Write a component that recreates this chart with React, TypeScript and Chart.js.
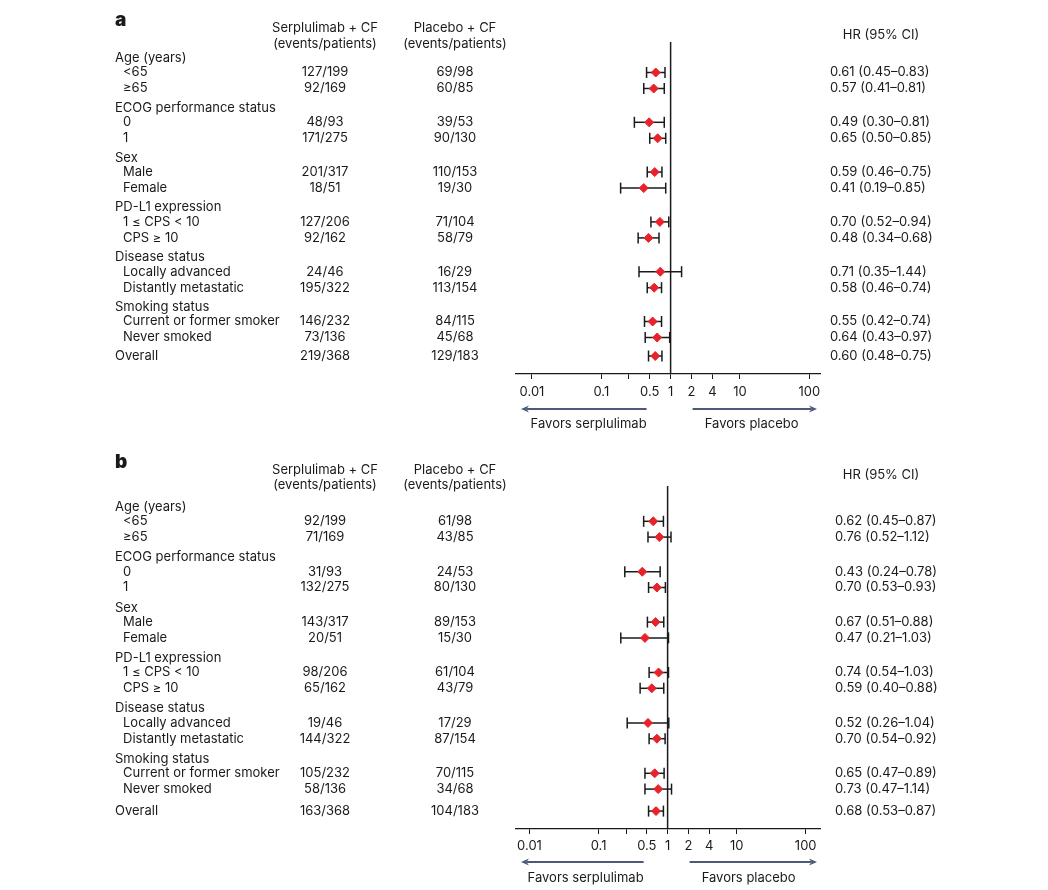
import { useEffect, useRef } from 'react';
import { Chart, registerables } from 'chart.js';

Chart.register(...registerables);

const FONT = 'Inter, "Noto Sans", "DejaVu Sans", sans-serif';
const INK = '#1b1a1b';
const RED = '#e8222b';
const ARROW = '#4c5a7a';

// ---- categories ----
const groupLabels = [
  'Age (years)',
  'ECOG performance status',
  'Sex',
  'PD-L1 expression',
  'Disease status',
  'Smoking status',
];
const subgroupLabels = [
  '<65', '≥65',
  '0', '1',
  'Male', 'Female',
  '1 ≤ CPS < 10', 'CPS ≥ 10',
  'Locally advanced', 'Distantly metastatic',
  'Current or former smoker', 'Never smoked',
];
const overallLabel = 'Overall';
const colHeaderSerp = ['Serplulimab + CF', '(events/patients)'];
const colHeaderPlac = ['Placebo + CF', '(events/patients)'];
const hrHeader = 'HR (95% CI)';
const favorsLeft = 'Favors serplulimab';
const favorsRight = 'Favors placebo';

// ---- axis ticks ----
const xTickValues = [0.01, 0.1, 0.25, 0.5, 1, 2, 4, 10, 100];
const xTickLabels = ['0.01', '0.1', '', '0.5', '1', '2', '4', '10', '100'];

// ---- panel a ----
const serpEventsA = ['127/199', '92/169', '48/93', '171/275', '201/317', '18/51', '127/206', '92/162', '24/46', '195/322', '146/232', '73/136', '219/368'];
const placEventsA = ['69/98', '60/85', '39/53', '90/130', '110/153', '19/30', '71/104', '58/79', '16/29', '113/154', '84/115', '45/68', '129/183'];
const hrA = [0.61, 0.57, 0.49, 0.65, 0.59, 0.41, 0.70, 0.48, 0.71, 0.58, 0.55, 0.64, 0.60];
const lowA = [0.45, 0.41, 0.30, 0.50, 0.46, 0.19, 0.52, 0.34, 0.35, 0.46, 0.42, 0.43, 0.48];
const highA = [0.83, 0.81, 0.81, 0.85, 0.75, 0.85, 0.94, 0.68, 1.44, 0.74, 0.74, 0.97, 0.75];

// ---- panel b ----
const serpEventsB = ['92/199', '71/169', '31/93', '132/275', '143/317', '20/51', '98/206', '65/162', '19/46', '144/322', '105/232', '58/136', '163/368'];
const placEventsB = ['61/98', '43/85', '24/53', '80/130', '89/153', '15/30', '61/104', '43/79', '17/29', '87/154', '70/115', '34/68', '104/183'];
const hrB = [0.62, 0.76, 0.43, 0.70, 0.67, 0.47, 0.74, 0.59, 0.52, 0.70, 0.65, 0.73, 0.68];
const lowB = [0.45, 0.52, 0.24, 0.53, 0.51, 0.21, 0.54, 0.40, 0.26, 0.54, 0.47, 0.47, 0.53];
const highB = [0.87, 1.12, 0.78, 0.93, 0.88, 1.03, 1.03, 0.88, 1.04, 0.92, 0.89, 1.14, 0.87];

type Layout = {
  height: number;
  areaTop: number;
  areaBottom: number;
  xMin: number;
  xMax: number;
  first: number;
  group: number;
  item: number;
  overallGap: number;
  letterY: number;
  head1Y: number;
  head2Y: number;
  hrHeadY: number;
  hrX: number;
  tickPad: number;
  arrowY: number;
  favorsY: number;
};

type Panel = {
  letter: string;
  serp: string[];
  plac: string[];
  hr: number[];
  low: number[];
  high: number[];
  layout: Layout;
};

const panelA: Panel = {
  letter: 'a',
  serp: serpEventsA,
  plac: placEventsA,
  hr: hrA,
  low: lowA,
  high: highA,
  layout: {
    height: 445, areaTop: 42, areaBottom: 374, xMin: 0.00588, xMax: 143,
    first: 72.5, group: 49.8, item: 16, overallGap: 18.5,
    letterY: 20, head1Y: 28.5, head2Y: 44.5, hrHeadY: 35, hrX: 830,
    tickPad: 5, arrowY: 409, favorsY: 424,
  },
};

const panelB: Panel = {
  letter: 'b',
  serp: serpEventsB,
  plac: placEventsB,
  hr: hrB,
  low: lowB,
  high: highB,
  layout: {
    height: 445, areaTop: 41, areaBottom: 384, xMin: 0.00638, xMax: 161,
    first: 76.3, group: 50.4, item: 15.8, overallGap: 22,
    letterY: 17.5, head1Y: 25, head2Y: 40.5, hrHeadY: 30, hrX: 835,
    tickPad: 4, arrowY: 417, favorsY: 433,
  },
};

function rowPositions(L: Layout): number[] {
  const ys: number[] = [];
  for (let g = 0; g < groupLabels.length; g++) {
    const y1 = L.first + g * L.group;
    ys.push(y1, y1 + L.item);
  }
  ys.push(ys[ys.length - 1] + L.overallGap);
  return ys;
}

const f2 = (v: number) => v.toFixed(2);

function drawArrow(ctx: CanvasRenderingContext2D, tail: number, tip: number, y: number) {
  const dir = tip > tail ? 1 : -1;
  const head = 8;
  ctx.beginPath();
  ctx.moveTo(tail, y);
  ctx.lineTo(tip - dir * (head - 2), y);
  ctx.stroke();
  ctx.beginPath();
  ctx.moveTo(tip, y);
  ctx.lineTo(tip - dir * head, y - 3.5);
  ctx.lineTo(tip - dir * (head - 2.5), y);
  ctx.lineTo(tip - dir * head, y + 3.5);
  ctx.closePath();
  ctx.fill();
}

function makePlugin(P: Panel) {
  const L = P.layout;
  const ys = rowPositions(L);
  return {
    id: 'forestDecor',
    beforeDatasetsDraw(chart: any) {
      const ctx = chart.ctx as CanvasRenderingContext2D;
      const x1 = chart.scales.x.getPixelForValue(1);
      const a = chart.chartArea;
      ctx.save();
      ctx.strokeStyle = INK;
      ctx.lineWidth = 1.5;
      ctx.beginPath();
      ctx.moveTo(x1, a.top);
      ctx.lineTo(x1, a.bottom);
      ctx.stroke();
      ctx.restore();
    },
    afterDraw(chart: any) {
      const ctx = chart.ctx as CanvasRenderingContext2D;
      const yS = chart.scales.y;
      const xS = chart.scales.x;
      const a = chart.chartArea;
      const py = (v: number) => yS.getPixelForValue(v);
      ctx.save();
      ctx.fillStyle = INK;
      ctx.textBaseline = 'middle';

      ctx.font = `900 19px ${FONT}`;
      ctx.textAlign = 'left';
      ctx.fillText(P.letter, 115, L.letterY);

      ctx.font = `13px ${FONT}`;
      ctx.textAlign = 'center';
      ctx.fillText(colHeaderSerp[0], 325, L.head1Y);
      ctx.fillText(colHeaderSerp[1], 325, L.head2Y);
      ctx.fillText(colHeaderPlac[0], 455, L.head1Y);
      ctx.fillText(colHeaderPlac[1], 455, L.head2Y);
      ctx.fillText(hrHeader, 881, L.hrHeadY);

      ctx.textAlign = 'left';
      groupLabels.forEach((g, gi) => {
        ctx.fillText(g, 115, py(ys[gi * 2]) - 14.5);
      });
      subgroupLabels.forEach((s, i) => {
        ctx.fillText(s, 123, py(ys[i]));
      });
      ctx.fillText(overallLabel, 115, py(ys[12]));

      ys.forEach((y, i) => {
        ctx.textAlign = 'center';
        ctx.fillText(P.serp[i], 325, py(y));
        ctx.fillText(P.plac[i], 455, py(y));
        ctx.textAlign = 'left';
        ctx.fillText(`${f2(P.hr[i])} (${f2(P.low[i])}–${f2(P.high[i])})`, L.hrX, py(y));
      });

      const x1 = xS.getPixelForValue(1);
      ctx.strokeStyle = ARROW;
      ctx.fillStyle = ARROW;
      ctx.lineWidth = 2;
      drawArrow(ctx, x1 - 24, a.left + 5, L.arrowY);
      drawArrow(ctx, x1 + 22, a.right - 3, L.arrowY);

      ctx.fillStyle = INK;
      ctx.textAlign = 'center';
      ctx.fillText(favorsLeft, x1 - 82, L.favorsY);
      ctx.fillText(favorsRight, x1 + 81, L.favorsY);
      ctx.restore();
    },
  };
}

function PanelChart({ panel }: { panel: Panel }) {
  const ref = useRef<HTMLCanvasElement | null>(null);
  useEffect(() => {
    if (!ref.current) return;
    const L = panel.layout;
    const ys = rowPositions(L);
    const ciSets = ys.map((y, i) => ({
      type: 'scatter' as const,
      data: [
        { x: panel.low[i], y },
        { x: panel.high[i], y },
      ],
      showLine: true,
      borderColor: INK,
      borderWidth: 1.5,
      pointStyle: 'line' as const,
      rotation: 90,
      pointRadius: 5.5,
      pointBorderColor: INK,
      pointBorderWidth: 1.5,
      order: 2,
    }));
    const hrSet = {
      type: 'scatter' as const,
      data: ys.map((y, i) => ({ x: panel.hr[i], y })),
      pointStyle: 'rectRot' as const,
      pointRadius: 4.5,
      backgroundColor: RED,
      borderColor: RED,
      pointBorderWidth: 1,
      order: 1,
    };
    const chart = new Chart(ref.current, {
      type: 'scatter',
      data: { datasets: [...ciSets, hrSet] as any },
      options: {
        animation: false,
        responsive: false,
        maintainAspectRatio: false,
        events: [],
        layout: {
          padding: { left: 516, right: 228, top: L.areaTop, bottom: L.height - L.areaBottom - 22 },
        },
        plugins: { legend: { display: false }, tooltip: { enabled: false } },
        scales: {
          x: {
            type: 'logarithmic',
            min: L.xMin,
            max: L.xMax,
            afterBuildTicks: (s: any) => {
              s.ticks = xTickValues.map((v) => ({ value: v }));
            },
            afterFit: (s: any) => {
              s.height = 22;
            },
            ticks: {
              autoSkip: false,
              maxRotation: 0,
              padding: L.tickPad,
              color: INK,
              font: { family: FONT, size: 13 },
              callback: (_v: any, i: number) => xTickLabels[i],
            },
            grid: { drawOnChartArea: false, drawTicks: true, tickLength: 5, color: INK, lineWidth: 1 },
            border: { display: true, color: INK, width: 1.3 },
          },
          y: {
            type: 'linear',
            display: false,
            min: L.areaTop,
            max: L.areaBottom,
            reverse: true,
          },
        },
      } as any,
      plugins: [makePlugin(panel)],
    });
    return () => chart.destroy();
  }, [panel]);
  return <canvas ref={ref} width={1048} height={panel.layout.height} style={{ display: 'block' }} />;
}

export default function App() {
  return (
    <div style={{ position: 'absolute', left: 0, top: 0, width: 1048, height: 890, background: '#fff' }}>
      <PanelChart panel={panelA} />
      <PanelChart panel={panelB} />
    </div>
  );
}
